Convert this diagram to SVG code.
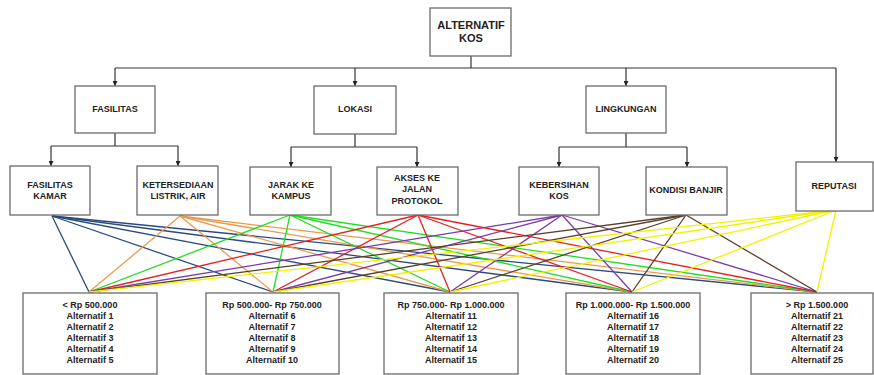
<svg xmlns="http://www.w3.org/2000/svg" width="874" height="375" viewBox="0 0 874 375">
<style>
.box{fill:#fff;stroke:#6b6b6b;stroke-width:1.3}
.t{font-family:"Liberation Sans",Arial,sans-serif;font-weight:bold;font-size:9px;fill:#222;text-anchor:middle}
.tt{font-size:11px}
.tree{fill:none;stroke:#333;stroke-width:1.2}
.c1{stroke:#2b4a80}.c2{stroke:#ec9a50}.c3{stroke:#22dd22}.c4{stroke:#e42020}.c5{stroke:#7a3ca8}.c6{stroke:#5a4028}.c7{stroke:#f2f200}
.lk line{stroke-width:1.3}
</style>
<defs>
<marker id="ah" viewBox="0 0 10 10" refX="10" refY="5" markerWidth="5" markerHeight="5" orient="auto" markerUnits="userSpaceOnUse"><path d="M0,0 L10,5 L0,10 z" fill="#222"/></marker>
</defs>
<rect width="874" height="375" fill="#fff"/>
<g id="connectors">
<g class="tree">
<path d="M471,56 V68"/>
<path d="M115,68 H836"/>
<path d="M115,68 V86" marker-end="url(#ah)"/>
<path d="M355,68 V86" marker-end="url(#ah)"/>
<path d="M626,68 V86" marker-end="url(#ah)"/>
<path d="M836,68 V162" marker-end="url(#ah)"/>
<path d="M115,133 V146 M51,146 H178"/>
<path d="M51,146 V166" marker-end="url(#ah)"/>
<path d="M178,146 V166" marker-end="url(#ah)"/>
<path d="M355,134 V147 M291,147 H417"/>
<path d="M291,147 V167" marker-end="url(#ah)"/>
<path d="M417,147 V167" marker-end="url(#ah)"/>
<path d="M626,133 V147 M559,147 H687"/>
<path d="M559,147 V167" marker-end="url(#ah)"/>
<path d="M687,147 V167" marker-end="url(#ah)"/>
</g>
<g class="lk">
<g class="c1"><line x1="52" y1="216" x2="89" y2="292"/><line x1="52" y1="216" x2="273" y2="292"/><line x1="52" y1="216" x2="450" y2="292"/><line x1="52" y1="216" x2="632" y2="292"/><line x1="52" y1="216" x2="817" y2="292"/></g>
<g class="c2"><line x1="180" y1="216" x2="89" y2="292"/><line x1="180" y1="216" x2="273" y2="292"/><line x1="180" y1="216" x2="450" y2="292"/><line x1="180" y1="216" x2="632" y2="292"/><line x1="180" y1="216" x2="817" y2="292"/></g>
<g class="c3"><line x1="290" y1="215" x2="89" y2="292"/><line x1="290" y1="215" x2="273" y2="292"/><line x1="290" y1="215" x2="450" y2="292"/><line x1="290" y1="215" x2="632" y2="292"/><line x1="290" y1="215" x2="817" y2="292"/></g>
<g class="c4"><line x1="418" y1="215" x2="89" y2="292"/><line x1="418" y1="215" x2="273" y2="292"/><line x1="418" y1="215" x2="450" y2="292"/><line x1="418" y1="215" x2="632" y2="292"/><line x1="418" y1="215" x2="817" y2="292"/></g>
<g class="c5"><line x1="562" y1="215" x2="89" y2="292"/><line x1="562" y1="215" x2="273" y2="292"/><line x1="562" y1="215" x2="450" y2="292"/><line x1="562" y1="215" x2="632" y2="292"/><line x1="562" y1="215" x2="817" y2="292"/></g>
<g class="c6"><line x1="686" y1="215" x2="89" y2="292"/><line x1="686" y1="215" x2="273" y2="292"/><line x1="686" y1="215" x2="450" y2="292"/><line x1="686" y1="215" x2="632" y2="292"/><line x1="686" y1="215" x2="817" y2="292"/></g>
<g class="c7"><line x1="836" y1="210" x2="89" y2="292"/><line x1="836" y1="210" x2="273" y2="292"/><line x1="836" y1="210" x2="450" y2="292"/><line x1="836" y1="210" x2="632" y2="292"/><line x1="836" y1="210" x2="817" y2="292"/></g>
</g>
</g>
<g id="n-alternatif-kos"><rect class="box" x="430" y="8" width="81" height="48"/><text class="t tt" x="471" y="29">ALTERNATIF</text><text class="t tt" x="471" y="42">KOS</text></g>
<g id="n-fasilitas"><rect class="box" x="75" y="86" width="80" height="47"/><text class="t" x="115" y="112">FASILITAS</text></g>
<g id="n-lokasi"><rect class="box" x="314" y="86" width="82" height="48"/><text class="t" x="355" y="112">LOKASI</text></g>
<g id="n-lingkungan"><rect class="box" x="586" y="86" width="80" height="47"/><text class="t" x="626" y="112">LINGKUNGAN</text></g>
<g id="n-fasilitas-kamar"><rect class="box" x="10" y="166" width="80" height="49"/><text class="t" x="50" y="188">FASILITAS</text><text class="t" x="50" y="199">KAMAR</text></g>
<g id="n-ketersediaan"><rect class="box" x="137" y="166" width="81" height="49"/><text class="t" x="178" y="188">KETERSEDIAAN</text><text class="t" x="178" y="199">LISTRIK, AIR</text></g>
<g id="n-jarak"><rect class="box" x="250" y="167" width="81" height="48"/><text class="t" x="291" y="188">JARAK KE</text><text class="t" x="291" y="199">KAMPUS</text></g>
<g id="n-akses"><rect class="box" x="377" y="167" width="81" height="48"/><text class="t" x="417" y="181">AKSES KE</text><text class="t" x="417" y="192">JALAN</text><text class="t" x="417" y="204">PROTOKOL</text></g>
<g id="n-kebersihan"><rect class="box" x="519" y="167" width="80" height="48"/><text class="t" x="559" y="188">KEBERSIHAN</text><text class="t" x="559" y="199">KOS</text></g>
<g id="n-banjir"><rect class="box" x="646" y="167" width="81" height="48"/><text class="t" x="686" y="193">KONDISI BANJIR</text></g>
<g id="n-reputasi"><rect class="box" x="796" y="162" width="77" height="49"/><text class="t" x="834" y="189">REPUTASI</text></g>
<g id="n-a1"><rect class="box" x="23" y="293" width="134" height="81"/>
<text class="t" x="90" y="308">&lt; Rp 500.000</text><text class="t" x="90" y="319">Alternatif 1</text><text class="t" x="90" y="330">Alternatif 2</text><text class="t" x="90" y="341">Alternatif 3</text><text class="t" x="90" y="352">Alternatif 4</text><text class="t" x="90" y="363">Alternatif 5</text></g>
<g id="n-a2"><rect class="box" x="206" y="293" width="133" height="81"/>
<text class="t" x="272" y="308">Rp 500.000- Rp 750.000</text><text class="t" x="272" y="319">Alternatif 6</text><text class="t" x="272" y="330">Alternatif 7</text><text class="t" x="272" y="341">Alternatif 8</text><text class="t" x="272" y="352">Alternatif 9</text><text class="t" x="272" y="363">Alternatif 10</text></g>
<g id="n-a3"><rect class="box" x="384" y="293" width="134" height="81"/>
<text class="t" x="451" y="308">Rp 750.000- Rp 1.000.000</text><text class="t" x="451" y="319">Alternatif 11</text><text class="t" x="451" y="330">Alternatif 12</text><text class="t" x="451" y="341">Alternatif 13</text><text class="t" x="451" y="352">Alternatif 14</text><text class="t" x="451" y="363">Alternatif 15</text></g>
<g id="n-a4"><rect class="box" x="566" y="293" width="134" height="81"/>
<text class="t" x="633" y="308">Rp 1.000.000- Rp 1.500.000</text><text class="t" x="633" y="319">Alternatif 16</text><text class="t" x="633" y="330">Alternatif 17</text><text class="t" x="633" y="341">Alternatif 18</text><text class="t" x="633" y="352">Alternatif 19</text><text class="t" x="633" y="363">Alternatif 20</text></g>
<g id="n-a5"><rect class="box" x="751" y="293" width="122" height="81"/>
<text class="t" x="817" y="308">&gt; Rp 1.500.000</text><text class="t" x="817" y="319">Alternatif 21</text><text class="t" x="817" y="330">Alternatif 22</text><text class="t" x="817" y="341">Alternatif 23</text><text class="t" x="817" y="352">Alternatif 24</text><text class="t" x="817" y="363">Alternatif 25</text></g>
</svg>
